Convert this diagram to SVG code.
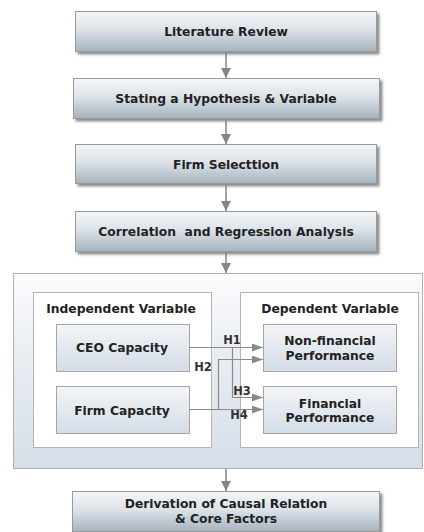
<svg xmlns="http://www.w3.org/2000/svg" width="424" height="532" viewBox="0 0 424 532">
  <defs>
    <linearGradient id="stepFill" x1="0" y1="0" x2="0" y2="1">
      <stop offset="0" stop-color="#f4f6f8"/>
      <stop offset="0.45" stop-color="#dde3e9"/>
      <stop offset="1" stop-color="#a5b3be"/>
    </linearGradient>
    <linearGradient id="nodeFill" x1="0" y1="0" x2="0" y2="1">
      <stop offset="0" stop-color="#f3f5f8"/>
      <stop offset="1" stop-color="#d3dce7"/>
    </linearGradient>
    <linearGradient id="panelFill" x1="0" y1="0" x2="0" y2="1">
      <stop offset="0" stop-color="#fbfcfd"/>
      <stop offset="0.5" stop-color="#e6ebf1"/>
      <stop offset="1" stop-color="#d6dee8"/>
    </linearGradient>
    <filter id="shadow" x="-5%" y="-20%" width="115%" height="160%">
      <feDropShadow dx="2.5" dy="2.5" stdDeviation="1.2" flood-color="#444" flood-opacity="0.6"/>
    </filter>
    <marker id="head" viewBox="0 0 10 10" refX="10" refY="5" markerWidth="10" markerHeight="10" markerUnits="userSpaceOnUse" orient="auto">
      <path d="M0,0 L10,5 L0,10 Z" fill="#858585"/>
    </marker>
    <marker id="headSide" viewBox="0 0 11 8" refX="11" refY="4" markerWidth="11" markerHeight="8" markerUnits="userSpaceOnUse" orient="auto">
      <path d="M0,0 L11,4 L0,8 Z" fill="#8a8a8a"/>
    </marker>
  </defs>
  <style>
    .step rect { fill: url(#stepFill); stroke: #9a9a9a; stroke-width: 1; filter: url(#shadow); }
    .node rect { fill: url(#nodeFill); stroke: #a5a5a5; stroke-width: 1; }
    .group rect { fill: #ffffff; stroke: #b5b5b5; stroke-width: 1; }
    text { font-family: "DejaVu Sans", Verdana, sans-serif; font-weight: bold; font-size: 12.3px; fill: #222; text-anchor: middle; }
    .lbl { font-size: 11.5px; fill: #333; }
    .flow { stroke: #858585; stroke-width: 1.5; fill: none; marker-end: url(#head); }
    .link { stroke: #8a8a8a; stroke-width: 1.2; fill: none; }
    .link.arrow { marker-end: url(#headSide); }
  </style>

  <!-- analysis container -->
  <g id="analysis">
    <rect x="13.5" y="273.5" width="409" height="195" fill="url(#panelFill)" stroke="#b0b0b0" stroke-width="1"/>
  </g>

  <g id="independent" class="group">
    <rect x="33.5" y="292.5" width="178" height="155"/>
    <text x="121" y="313">Independent Variable</text>
  </g>
  <g id="dependent" class="group">
    <rect x="240.5" y="292.5" width="178" height="155"/>
    <text x="330" y="313">Dependent Variable</text>
  </g>

  <g id="literature" class="step">
    <rect x="75.5" y="11.5" width="301" height="40"/>
    <text x="226" y="35.5">Literature Review</text>
  </g>
  <g id="hypothesis" class="step">
    <rect x="73.5" y="78.5" width="306" height="40"/>
    <text x="226" y="102.5">Stating a Hypothesis &amp; Variable</text>
  </g>
  <g id="selection" class="step">
    <rect x="75.5" y="144.5" width="301" height="39"/>
    <text x="226" y="168.5">Firm Selecttion</text>
  </g>
  <g id="regression" class="step">
    <rect x="75.5" y="211.5" width="301" height="40"/>
    <text x="226" y="235.5" xml:space="preserve">Correlation  and Regression Analysis</text>
  </g>
  <g id="derivation" class="step">
    <rect x="72.5" y="491.5" width="307" height="40"/>
    <text x="226" y="507.5">Derivation of Causal Relation</text>
    <text x="226" y="522.5">&amp; Core Factors</text>
  </g>

  <g id="ceo" class="node">
    <rect x="56.5" y="324.5" width="133" height="47"/>
    <text x="122" y="351.5">CEO Capacity</text>
  </g>
  <g id="firm" class="node">
    <rect x="56.5" y="386.5" width="133" height="47"/>
    <text x="122" y="414.5">Firm Capacity</text>
  </g>
  <g id="nonfinancial" class="node">
    <rect x="263.5" y="324.5" width="133" height="47"/>
    <text x="330" y="344.5">Non-financial</text>
    <text x="330" y="359.5">Performance</text>
  </g>
  <g id="financial" class="node">
    <rect x="263.5" y="386.5" width="133" height="47"/>
    <text x="330" y="407.5">Financial</text>
    <text x="330" y="421.5">Performance</text>
  </g>

  <g id="connectors">
    <line class="flow" x1="226" y1="52" x2="226" y2="78"/>
    <line class="flow" x1="226" y1="119" x2="226" y2="144"/>
    <line class="flow" x1="226" y1="184" x2="226" y2="211"/>
    <line class="flow" x1="226" y1="252" x2="226" y2="273"/>
    <line class="flow" x1="226" y1="469" x2="226" y2="491"/>

    <path class="link arrow" d="M189,347.5 H263"/>
    <path class="link arrow" d="M232.5,347.5 V397.5 H263"/>
    <path class="link arrow" d="M218.5,409.5 V359.5 H263"/>
    <path class="link arrow" d="M189,409.5 H263"/>

    <text class="lbl" x="232" y="344">H1</text>
    <text class="lbl" x="203" y="371">H2</text>
    <text class="lbl" x="242" y="395">H3</text>
    <text class="lbl" x="239" y="419">H4</text>
  </g>
</svg>
